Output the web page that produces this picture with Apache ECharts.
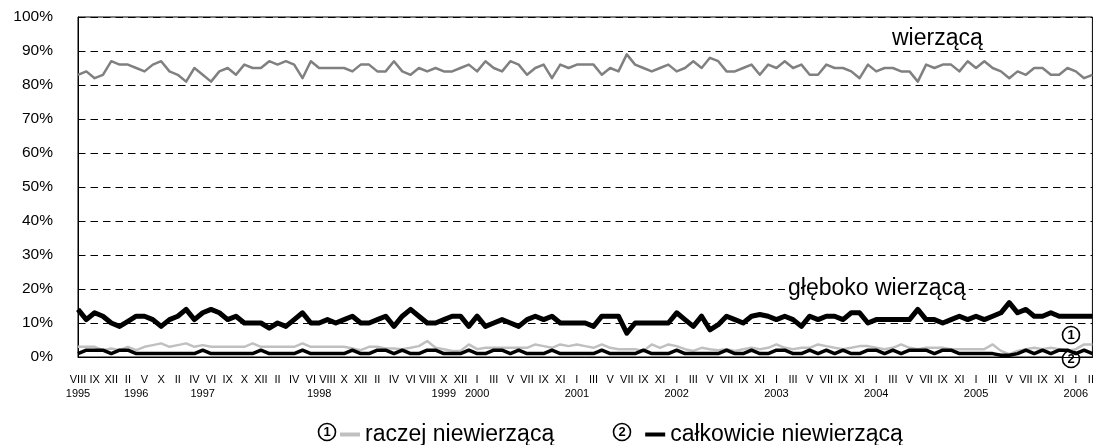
<!DOCTYPE html>
<html>
<head>
<meta charset="utf-8">
<title>Religijność 1995-2006</title>
<script src="https://cdn.jsdelivr.net/npm/echarts@6/dist/echarts.min.js"></script>
<style>
  html, body { margin: 0; padding: 0; overflow: hidden; background: #fff; }
  #chart { width: 1100px; height: 445px; }
</style>
</head>
<body>
<div id="chart"></div>
<script>
var ROMAN = ['I', 'II', 'III', 'IV', 'V', 'VI', 'VII', 'VIII', 'IX', 'X', 'XI', 'XII'];

// terminy badań: 1995-1997 nieregularnie, dalej co miesiąc
var surveys = [
  'VIII 1995', 'VIII 1995 b', 'IX 1995', 'X 1995', 'XII 1995',
  'I 1996', 'II 1996', 'III 1996', 'V 1996', 'VII 1996', 'X 1996', 'XII 1996',
  'II 1997', 'III 1997', 'IV 1997', 'V 1997', 'VI 1997', 'VII 1997', 'IX 1997', 'IX 1997 b', 'X 1997', 'XI 1997', 'XII 1997'
];
for (var yr = 1998; yr <= 1999; yr++) {
  for (var m = 0; m < 12; m++) surveys.push(ROMAN[m] + ' ' + yr);
}
surveys.push('XII 1999 b');
for (var yr2 = 2000; yr2 <= 2006; yr2++) {
  for (var m2 = 0; m2 < 12; m2++) {
    if (yr2 === 2006 && m2 > 2) break;
    surveys.push(ROMAN[m2] + ' ' + yr2);
  }
}

// w tych terminach stoi podpis roku
var yearMarks = ['VIII 1995', 'III 1996', 'V 1997', 'VII 1998', 'X 1999', 'I 2000', 'I 2001',
  'I 2002', 'I 2003', 'I 2004', 'I 2005', 'I 2006'];

var wierzaca = [
  83, 84, 82, 83, 87, 86, 86, 85, 84, 86, 87, 84, 83, 81, 85, 83, 81, 84, 85, 83,
  86, 85, 85, 87, 86, 87, 86, 82, 87, 85, 85, 85, 85, 84, 86, 86, 84, 84, 87, 84,
  83, 85, 84, 85, 84, 84, 85, 86, 84, 87, 85, 84, 87, 86, 83, 85, 86, 82, 86, 85,
  86, 86, 86, 83, 85, 84, 89, 86, 85, 84, 85, 86, 84, 85, 87, 85, 88, 87, 84, 84,
  85, 86, 83, 86, 85, 87, 85, 86, 83, 83, 86, 85, 85, 84, 82, 86, 84, 85, 85, 84,
  84, 81, 86, 85, 86, 86, 84, 87, 85, 87, 85, 84, 82, 84, 83, 85, 85, 83, 83, 85,
  84, 82, 83
];

var gleboko = [
  14, 11, 13, 12, 10, 9, 10.5, 12, 12, 11, 9, 11, 12, 14, 11, 13, 14, 13, 11, 12,
  10, 10, 10, 8.5, 10, 9, 11, 13, 10, 10, 11, 10, 11, 12, 10, 10, 11, 12, 9,
  12, 14, 12, 10, 10, 11, 12, 12, 9, 12, 9, 10, 11, 10, 9, 11, 12, 11, 12, 10,
  10, 10, 10, 9, 12, 12, 12, 7, 10, 10, 10, 10, 10, 13, 11, 9, 12, 8, 9.5, 12,
  11, 10, 12, 12.5, 12, 11, 12, 11, 9, 12, 11, 12, 12, 11, 13, 13, 10, 11, 11, 11,
  11, 11, 14, 11, 11, 10, 11, 12, 11, 12, 11, 12, 13, 16, 13, 14, 12, 12, 13, 12,
  12, 12, 12, 12
];

var raczej = [
  3, 3, 3, 2, 2.5, 2, 3, 2, 3, 3.5, 4, 3, 3.5, 4, 3, 3.5, 3, 3, 3, 3,
  3, 4, 3, 3, 3, 3, 3, 4, 3, 3, 3, 3, 3, 2.5, 2, 3, 3, 2.5, 2.5,
  2.3, 2.7, 3.2, 4.7, 2.7, 2.3, 1.8, 1.8, 3.7, 2.3, 2.7, 2.7, 2.7, 2.7, 2.7, 2.7, 3.7, 3.2, 2.7, 3.7,
  3.2, 3.7, 3.2, 2.7, 3.7, 2.7, 2.3, 2.3, 2.3, 1.8, 3.7, 2.7, 3.7, 3.2, 2.3, 1.8, 2.7, 2.3, 2, 2.3,
  1.8, 2.3, 2.7, 2.3, 2.7, 3.7, 2.7, 2.3, 2.7, 2.7, 3.7, 3.2, 2.7, 2.3, 2.7, 3.2, 3.2, 2.7, 2.3, 2.7,
  3.7, 2.7, 2.3, 2.7, 2.7, 2.7, 2.3, 2.3, 2.3, 2.3, 2.3, 3.7, 1.8, 0.8, 1.8, 2.3, 2.7, 2.3, 2.7, 2.3,
  1.8, 2.3, 3.7, 3.7
];

var calkowicie = [
  1, 2, 2, 2, 1, 2, 2, 1, 1, 1, 1, 1, 1, 1, 1, 2, 1, 1, 1, 1,
  1, 1, 2, 1, 1, 1, 1, 2, 1, 1, 1, 1, 1, 2, 1, 1, 2, 2, 1,
  2, 1, 1, 2, 2, 1, 1, 1, 2, 1, 1, 2, 2, 1, 2, 1, 1, 1, 2, 1,
  1, 1, 1, 1, 2, 1, 1, 1, 1, 2, 1, 1, 1, 2, 1, 1, 1, 1, 1, 2,
  1, 1, 2, 1, 1, 2, 2, 1, 1, 2, 1, 2, 1, 2, 1, 1, 2, 2, 1, 2,
  1, 2, 2, 2, 1, 2, 2, 1, 1, 1, 1, 1, 0.5, 0.5, 1, 2, 1, 2, 1, 2,
  2, 1, 2, 1
];

var FONT = '"Liberation Sans", Arial, sans-serif';

function circledNumber(x, y, digit) {
  return {
    type: 'group', x: x, y: y, z: 100,
    children: [
      { type: 'circle', shape: { cx: 0, cy: 0, r: 8.5 }, style: { fill: '#fff', stroke: '#000', lineWidth: 1.6 } },
      { type: 'text', style: { text: digit, x: 0, y: 0.5, align: 'center', verticalAlign: 'middle', font: 'bold 13px ' + FONT, fill: '#000' } }
    ]
  };
}

var chart = echarts.init(document.getElementById('chart'));
chart.setOption({
  animation: false,
  textStyle: { fontFamily: FONT },
  grid: { left: 78, top: 17, right: 5, bottom: 88, show: true, borderColor: '#000', borderWidth: 1 },
  legend: {
    data: [
      { name: 'raczej niewierzącą', icon: 'rect', itemStyle: { color: '#c0c0c0' } },
      { name: 'całkowicie niewierzącą', icon: 'rect', itemStyle: { color: '#000' } }
    ],
    left: 335, top: 418,
    itemWidth: 20, itemHeight: 4, itemGap: 91,
    textStyle: { fontSize: 23, color: '#000', fontFamily: FONT }
  },
  xAxis: [{
    type: 'category',
    data: surveys,
    boundaryGap: false,
    axisLine: { lineStyle: { color: '#000', width: 1 } },
    axisTick: { show: false },
    axisLabel: {
      interval: 1, margin: 17, fontSize: 11, color: '#000',
      formatter: function (v) { return v.split(' ')[0]; }
    }
  }, {
    type: 'category',
    data: surveys,
    position: 'bottom',
    boundaryGap: false,
    axisLine: { show: false },
    axisTick: { show: false },
    axisLabel: {
      interval: 0, margin: 31, fontSize: 11, color: '#000',
      formatter: function (v) { return yearMarks.indexOf(v) >= 0 ? v.split(' ')[1] : ''; }
    }
  }],
  yAxis: {
    type: 'value', min: 0, max: 100, interval: 10,
    axisLine: { show: true, lineStyle: { color: '#000', width: 1 } },
    axisTick: { show: false },
    axisLabel: { formatter: '{value}%', fontSize: 15.5, color: '#000', margin: 25, padding: [5, 0, 0, 0] },
    splitLine: { lineStyle: { color: '#000', width: 1, type: [7.5, 5] } }
  },
  series: [
    { name: 'wierzącą', type: 'line', data: wierzaca, symbol: 'none',
      lineStyle: { color: '#808080', width: 2.5, join: 'round' }, itemStyle: { color: '#808080' } },
    { name: 'raczej niewierzącą', type: 'line', data: raczej, symbol: 'none',
      lineStyle: { color: '#c0c0c0', width: 2.5, join: 'round' }, itemStyle: { color: '#c0c0c0' } },
    { name: 'całkowicie niewierzącą', type: 'line', data: calkowicie, symbol: 'none',
      lineStyle: { color: '#000', width: 3.5, join: 'round' }, itemStyle: { color: '#000' } },
    { name: 'głęboko wierzącą', type: 'line', data: gleboko, symbol: 'none',
      lineStyle: { color: '#000', width: 5, join: 'round' }, itemStyle: { color: '#000' } }
  ],
  graphic: [
    { type: 'text', x: 892, y: 39, z: 100,
      style: { text: 'wierzącą', font: '23px ' + FONT, fill: '#000', verticalAlign: 'middle' } },
    { type: 'text', x: 785, y: 289, z: 100,
      style: { text: 'głęboko wierzącą', font: '23px ' + FONT, fill: '#000', verticalAlign: 'middle',
        backgroundColor: '#fff', padding: [0, 3] } },
    circledNumber(1071, 335, '1'),
    circledNumber(1071, 359, '2'),
    circledNumber(327, 432, '1'),
    circledNumber(622, 432, '2')
  ]
});
</script>
</body>
</html>
